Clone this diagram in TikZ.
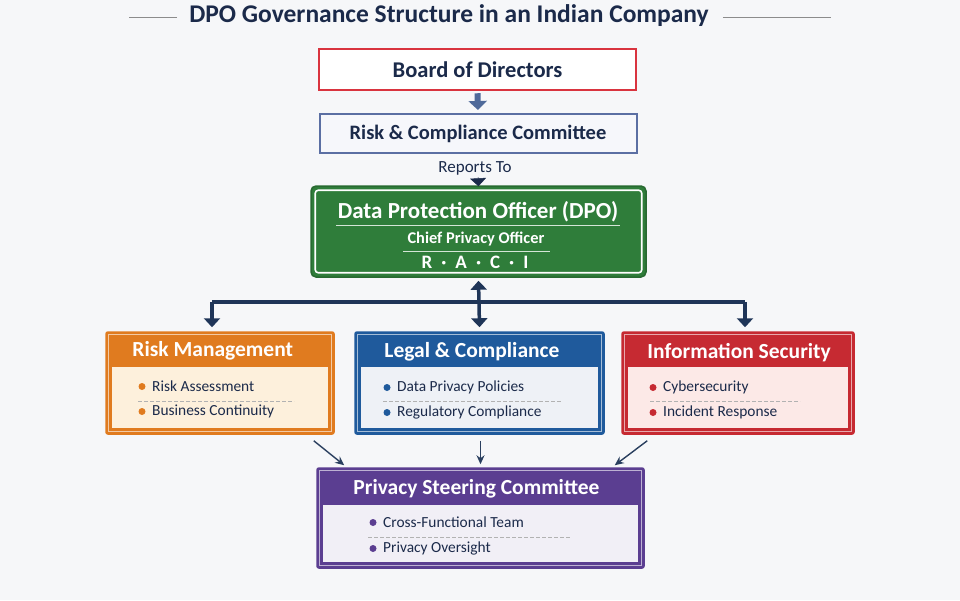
\documentclass[tikz,border=0pt]{standalone}
\usepackage{fontspec}
\setmainfont{Carlito}
\usetikzlibrary{arrows.meta,calc}
\definecolor{navy}{HTML}{1B2A4A}
\definecolor{bgc}{HTML}{F6F7F9}
\definecolor{boardred}{HTML}{D9343F}
\definecolor{steel}{HTML}{4F6A9A}
\definecolor{rcline}{HTML}{5B6FA3}
\definecolor{rcfill}{HTML}{F6F7FB}
\definecolor{dpogreen}{HTML}{2F7D3A}
\definecolor{orc}{HTML}{E07B1F}
\definecolor{orl}{HTML}{FDF0DC}
\definecolor{blc}{HTML}{1F5A9C}
\definecolor{bll}{HTML}{EEF1F6}
\definecolor{rdc}{HTML}{C62A32}
\definecolor{rdl}{HTML}{FCE9E7}
\definecolor{puc}{HTML}{5B3E91}
\definecolor{pul}{HTML}{F1EFF6}
\definecolor{bus}{HTML}{1F3558}
\definecolor{conn}{HTML}{2A3F5F}
\tikzset{
  topbox/.style={draw, fill=white, minimum width=317pt, minimum height=41pt, inner sep=0pt,
    font=\bfseries\fontsize{20.5}{24}\selectfont, text=navy},
  secbox/.style={minimum height=102pt, inner sep=0pt, rounded corners=2pt},
  hdr/.style={anchor=west, text=white, font=\bfseries\fontsize{21.5}{25}\selectfont, inner sep=0pt},
  item/.style={anchor=west, text=navy, font=\fontsize{15.4}{18}\selectfont, inner sep=0pt},
  sep/.style={dashed, dash pattern=on 4pt off 2pt, line width=0.6pt, color=black!30},
  busline/.style={draw=bus, line width=3.5pt},
  thinarrow/.style={draw=conn, line width=1.4pt, -{Stealth[length=9pt,width=8pt]}},
}
\begin{document}
\begin{tikzpicture}[x=1pt,y=-1pt]
\useasboundingbox (0,0) rectangle (960,600);
\fill[bgc] (0,0) rectangle (960,600);
% title
\node[text=navy, font=\bfseries\fontsize{25.5}{28}\selectfont, inner sep=0pt] (title) at (449,16) {DPO Governance Structure in an Indian Company};
\draw[black!45, line width=0.8pt] ($(title.west)+(-12,1)$) -- ++(-48,0);
\draw[black!45, line width=0.8pt] ($(title.east)+(14,1)$) -- ++(108,0);
% board
\node[topbox, draw=boardred, line width=2.5pt, font=\bfseries\fontsize{22.5}{26}\selectfont] (board) at (477.5,69.5) {Board of Directors};
\node[topbox, draw=rcline, fill=rcfill, line width=2pt, minimum height=39pt] (rc) at (478,133.5) {Risk \& Compliance Committee};
\draw[steel, line width=6pt, -{Triangle[length=9pt,width=18pt]}] ($(board.south)+(0,2)$) -- ($(rc.north)+(0,-3)$);
\node[text=navy, font=\fontsize{17}{20}\selectfont, inner sep=0pt] (rep) at (475,168) {Reports To};
% DPO
\node[draw=dpogreen!85!black, fill=dpogreen, line width=1.5pt, rounded corners=5pt, minimum width=335pt, minimum height=91pt, inner sep=0pt] (dpo) at (478.5,231.5) {};
\draw[navy, line width=0.5pt, -{Triangle[length=8pt,width=16pt]}] ($(rep.south)+(3,2)$) -- ($(dpo.north)+(0,1)$);
\draw[white, line width=1.6pt, rounded corners=3pt] ($(dpo.north west)+(5,5)$) rectangle ($(dpo.south east)+(-5,-5)$);
\node[text=white, font=\bfseries\fontsize{23}{26}\selectfont, inner sep=0pt] (dpot) at (478,212) {Data Protection Officer (DPO)};
\draw[white!80!dpogreen, line width=0.8pt] (336,225) -- (620,225);
\node[text=white, font=\bfseries\fontsize{16.4}{19}\selectfont, inner sep=0pt] (cpo) at (476,239) {Chief Privacy Officer};
\draw[white!80!dpogreen, line width=0.8pt] (403,251) -- (550,251);
\node[text=white, font=\bfseries\fontsize{19}{22}\selectfont, inner sep=0pt] (raci) at (475,262) {R\hspace{9pt}·\hspace{9pt}A\hspace{9pt}·\hspace{9pt}C\hspace{9pt}·\hspace{9pt}I};
% section boxes
\node[secbox, draw=orc, fill=orc, line width=1.5pt, minimum width=228pt] (rm) at (220,383) {};
\node[secbox, draw=blc, fill=blc, line width=1.5pt, minimum width=249pt] (lc) at (479.5,383) {};
\node[secbox, draw=rdc, fill=rdc, line width=1.5pt, minimum width=232pt] (is) at (738,383) {};
\node[secbox, draw=puc, fill=puc, line width=1.5pt, minimum width=327pt, minimum height=100pt] (psc) at (480.5,518) {};
\foreach \b/\l/\h in {rm/orl/36, lc/bll/36, is/rdl/36, psc/pul/38}{
  \draw[white, opacity=0.6, line width=0.9pt] ($(\b.north west)+(3.5,3.5)$) rectangle ($(\b.south east)+(-3.5,-3.5)$);
  \fill[\l] ($(\b.north west)+(7,\h)$) rectangle ($(\b.south east)+(-7,-7)$);
}
% headers
\node[hdr] (rmh) at ($(rm.north west)+(27,20)$) {Risk Management};
\node[hdr] (lch) at ($(lc.north west)+(30,21)$) {Legal \& Compliance};
\node[hdr] (ish) at ($(is.north west)+(26,21)$) {Information Security};
\node[hdr, anchor=center] (psch) at ($(psc.north)+(-4,22)$) {Privacy Steering Committee};
% items
\node[item] (rm1) at (152,386) {Risk Assessment};
\node[item] (rm2) at (152,411) {Business Continuity};
\node[item] (lc1) at (397,387) {Data Privacy Policies};
\node[item] (lc2) at (397,412) {Regulatory Compliance};
\node[item] (is1) at (663,387) {Cybersecurity};
\node[item] (is2) at (663,412) {Incident Response};
\node[item] (ps1) at (383,522) {Cross-Functional Team};
\node[item] (ps2) at (383,548) {Privacy Oversight};
\foreach \n/\c in {rm1/orc, rm2/orc, lc1/blc, lc2/blc, is1/rdc, is2/rdc, ps1/puc, ps2/puc}{
  \fill[\c] ($(\n.west)+(-10,0.5)$) circle (3.5pt);
}
\draw[sep] (138,401) -- (294,401);
\draw[sep] (383,401) -- (562,401);
\draw[sep] (650,401) -- (800,401);
\draw[sep] (368,537) -- (570,537);
% bus
\coordinate (jl) at (212,302);
\coordinate (jr) at (745,302);
\draw[busline] (jl) -- (jr);
\draw[busline, -{Triangle[length=9pt,width=16pt]}] (jl) -- ($(jl |- rm.north)+(0,-4)$);
\draw[busline, -{Triangle[length=9pt,width=16pt]}] (jr) -- ($(jr |- is.north)+(0,-4)$);
\draw[busline, {Triangle[length=9pt,width=16pt]}-{Triangle[length=9pt,width=16pt]}] ($(dpo.south)+(0,3)$) -- ($(lc.north)+(0,-4)$);
% to steering
\draw[thinarrow] ($(rm.south east)+(-21,6)$) -- ($(psc.north west)+(28,-2)$);
\draw[thinarrow] ($(lc.south)+(1,6)$) -- ($(psc.north)+(0,-3)$);
\draw[thinarrow] ($(is.south west)+(26,6)$) -- ($(psc.north east)+(-30,-2)$);
\end{tikzpicture}
\end{document}
